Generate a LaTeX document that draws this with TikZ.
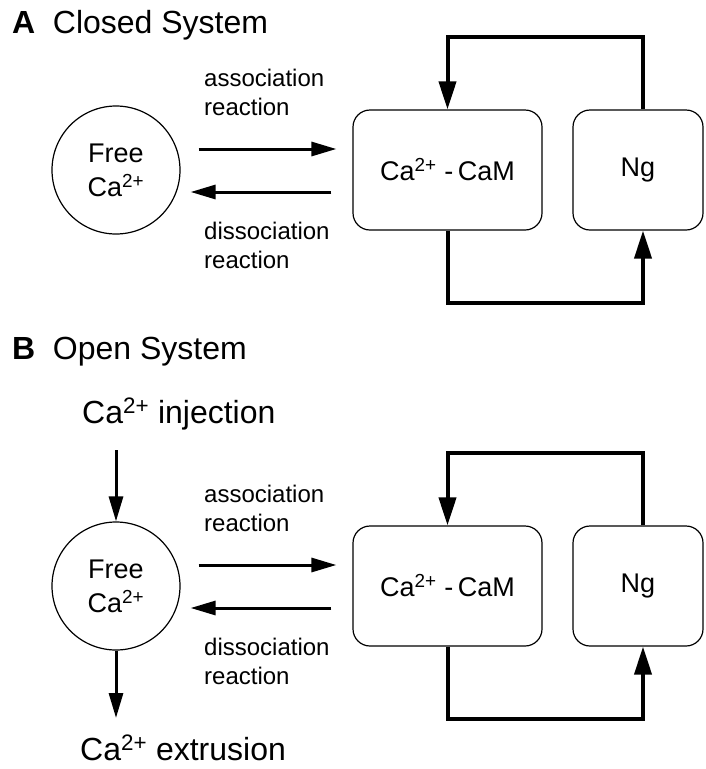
\documentclass[tikz,border=0pt]{standalone}
\usepackage{fontspec}
\setmainfont{Liberation Sans}
\usetikzlibrary{arrows.meta}

\begin{document}
\begin{tikzpicture}[x=1pt,y=-1pt]
        \tikzset{pool/.style={draw,circle,line width=1.2pt,minimum size=128pt,inner sep=0pt,
                align=center,font=\fontsize{27}{34}\selectfont},
            species/.style={draw,rounded corners=17pt,line width=1.2pt,minimum height=120pt,
                font=\fontsize{27}{34}\selectfont},
            rxn/.style={line width=3pt,-{Triangle[length=25pt,width=14pt]}},
            feedback/.style={line width=4pt,-{Triangle[length=28pt,width=17pt]}},
            rxnlabel/.style={anchor=base west,inner sep=0pt,align=left,
                font=\fontsize{24}{29}\selectfont},
            heading/.style={anchor=base west,inner sep=0pt,font=\fontsize{32}{38}\selectfont}}
        \useasboundingbox (0,0) rectangle (705,769);
        % A: closed system
        \node[heading] (titleA) at (12,33) {\textbf{A}\hspace{0.55em}Closed System};
        \node[pool] (freeA) at (116,170) {Free\\Ca\textsuperscript{2+}};
        \node[species,minimum width=189pt] (camA) at (447.5,170) {Ca\textsuperscript{2+} -\,CaM};
        \node[species,minimum width=130pt] (ngA) at (638,170) {Ng};
        \node[rxnlabel] (assocA) at (204,115) {association\\reaction};
        \node[rxnlabel] (dissocA) at (204,268) {dissociation\\reaction};
        \draw[rxn,shorten <=18pt,shorten >=16pt] ([yshift=21pt]freeA.east) -- ([yshift=21pt]camA.west);
        \draw[rxn,shorten <=21pt,shorten >=10pt] ([yshift=-22pt]camA.west) -- ([yshift=-22pt]freeA.east);
        \draw[feedback] ([xshift=5pt]ngA.north) -- ++(0,-72) -| (camA.north);
        \draw[feedback] (camA.south) -- ++(0,72) -| ([xshift=5pt]ngA.south);
        % B: open system
        \node[heading] (titleB) at (12,359) {\textbf{B}\hspace{0.55em}Open System};
        \node[heading] (inject) at (82,423) {Ca\textsuperscript{2+} injection};
        \node[pool] (freeB) at (116,586) {Free\\Ca\textsuperscript{2+}};
        \node[species,minimum width=189pt] (camB) at (447.5,586) {Ca\textsuperscript{2+} -\,CaM};
        \node[species,minimum width=130pt] (ngB) at (638,586) {Ng};
        \node[rxnlabel] (assocB) at (204,531) {association\\reaction};
        \node[rxnlabel] (dissocB) at (204,684) {dissociation\\reaction};
        \node[heading] (extrude) at (80,760) {Ca\textsuperscript{2+} extrusion};
        \coordinate (injtail) at (116,450);
        \coordinate (exttip) at (116,718);
        \draw[rxn] (injtail) -- (freeB.north);
        \draw[rxn] (freeB.south) -- (exttip);
        \draw[rxn,shorten <=18pt,shorten >=16pt] ([yshift=21pt]freeB.east) -- ([yshift=21pt]camB.west);
        \draw[rxn,shorten <=21pt,shorten >=10pt] ([yshift=-22pt]camB.west) -- ([yshift=-22pt]freeB.east);
        \draw[feedback] ([xshift=5pt]ngB.north) -- ++(0,-72) -| (camB.north);
        \draw[feedback] (camB.south) -- ++(0,72) -| ([xshift=5pt]ngB.south);
    \end{tikzpicture}
\end{document}
